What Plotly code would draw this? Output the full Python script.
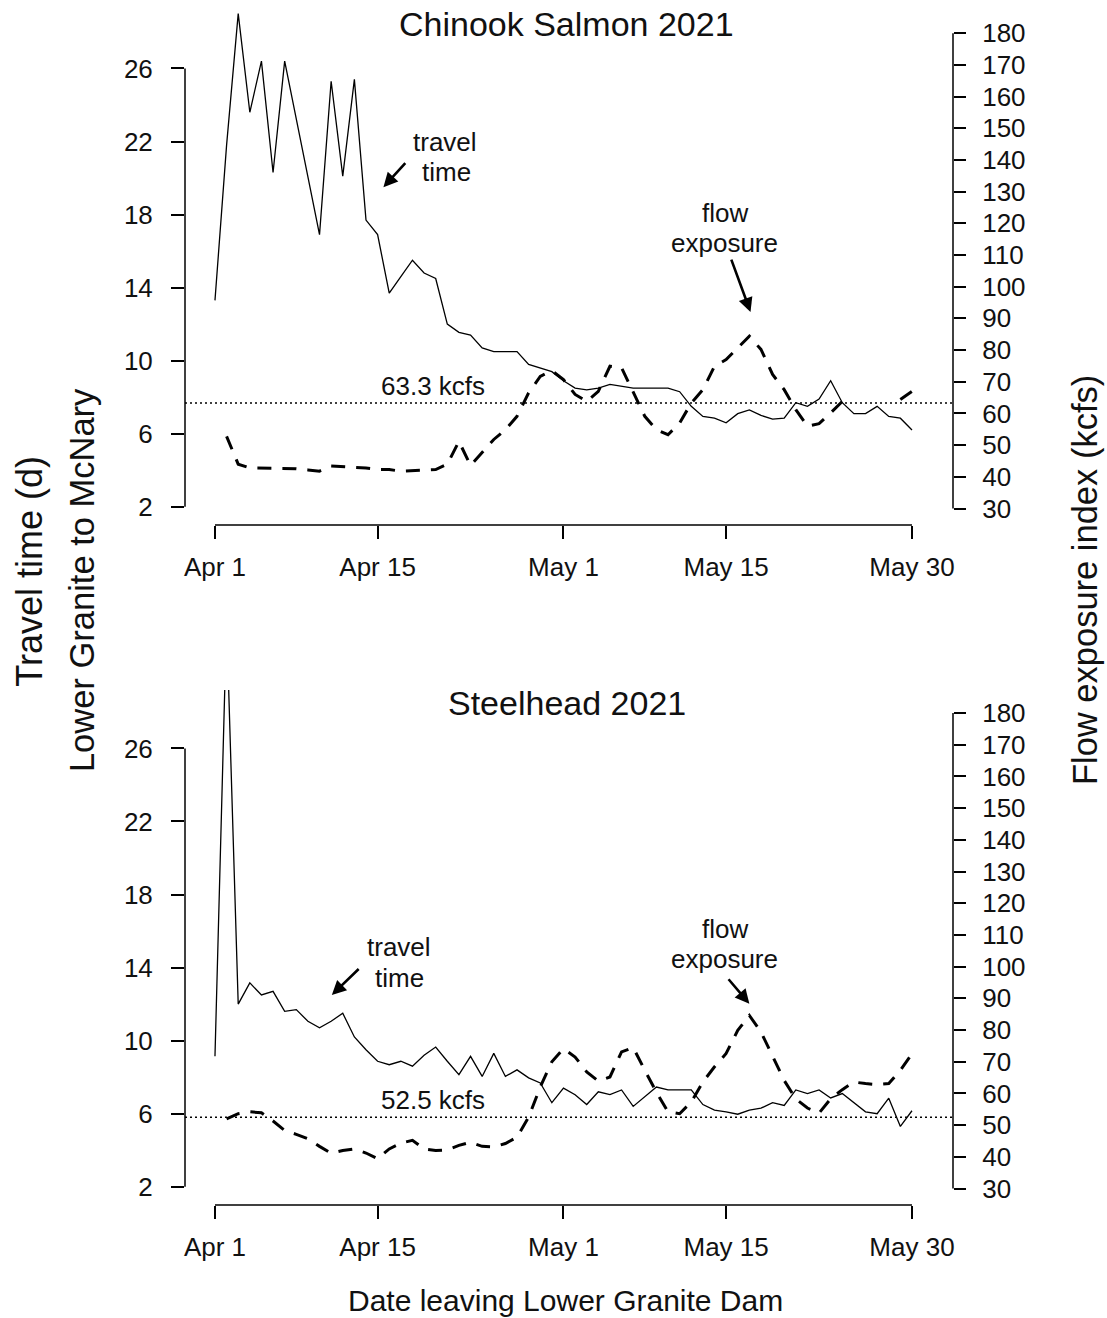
import plotly.graph_objects as go

# Days after Apr 1 (Apr 1 = 0)
days = list(range(61))
tick_days = [0, 14, 30, 44, 60]
tick_labels = ["Apr 1", "Apr 15", "May 1", "May 15", "May 30"]

# Chinook Salmon 2021
chinook_travel = [13.3, 21.8, 29.0, 23.6, 26.4, 20.3, 26.4, 23.3, 20.1, 16.9,
                  25.3, 20.1, 25.4, 17.7, 16.9, 13.7, 14.6, 15.5, 14.8, 14.5,
                  12.0, 11.55, 11.4, 10.7, 10.5, 10.5, 10.5, 9.8, 9.6, 9.4,
                  8.9, 8.5, 8.4, 8.5, 8.7, 8.6, 8.5, 8.5, 8.5, 8.5,
                  8.3, 7.5, 6.95, 6.85, 6.6, 7.1, 7.3, 7.0, 6.8, 6.85,
                  7.7, 7.5, 7.9, 8.9, 7.7, 7.1, 7.1, 7.5, 6.95, 6.85,
                  6.2]
chinook_flow = [None, 52.8, 44.0, 42.8, 42.8, 42.7, 42.8, 42.6, 42.2, 41.8,
                43.4, 43.2, 43.2, 42.8, 42.3, 42.3, 41.8, 42.0, 42.3, 42.3,
                44.0, 51.2, 43.6, 47.6, 51.8, 54.9, 59.1, 66.5, 71.7, 73.5,
                70.7, 66.0, 63.8, 67.0, 74.9, 74.4, 66.5, 59.1, 54.9, 53.3,
                57.0, 63.3, 67.5, 74.9, 77.0, 80.7, 84.4, 80.2, 72.3, 67.5,
                61.2, 56.0, 56.8, 60.2, 63.8, None, None, None, None, 64.4,
                67.0]

# Steelhead 2021
steelhead_travel = [9.14, 33.0, 12.0, 13.16, 12.5, 12.7, 11.6, 11.7, 11.06, 10.7,
                    11.06, 11.5, 10.2, 9.5, 8.87, 8.68, 8.87, 8.6, 9.2, 9.65,
                    8.87, 8.14, 9.14, 8.04, 9.3, 8.04, 8.4, 7.96, 7.68, 6.6,
                    7.4, 7.04, 6.5, 7.2, 7.04, 7.3, 6.4, 6.94, 7.46, 7.3,
                    7.3, 7.3, 6.5, 6.2, 6.1, 5.97, 6.2, 6.3, 6.6, 6.45,
                    7.3, 7.1, 7.3, 6.86, 7.1, 6.6, 6.1, 6.0, 6.85, 5.3,
                    6.16]
steelhead_flow = [None, 52.0, 53.6, 54.2, 53.9, 51.3, 48.3, 47.1, 45.7, 43.3,
                  41.1, 42.0, 42.5, 41.2, 39.4, 42.5, 44.3, 45.2, 42.5, 42.0,
                  42.2, 43.6, 44.6, 43.3, 43.1, 44.2, 46.2, 52.5, 62.0, 70.0,
                  74.1, 71.5, 66.8, 63.9, 65.2, 73.1, 74.5, 67.3, 60.4, 54.2,
                  53.6, 57.3, 63.6, 68.4, 72.6, 79.9, 84.6, 79.4, 71.7, 64.1,
                  58.3, 55.4, 53.8, 58.3, 61.2, 63.6, 63.1, 62.8, 63.1, 67.3,
                  72.5]

panel_titles = ["Chinook Salmon 2021", "Steelhead 2021"]
mean_flow = [63.3, 52.5]
travel_ticks = [2, 6, 10, 14, 18, 22, 26]
flow_ticks = list(range(30, 190, 10))

FONT = "Liberation Sans, Arial, sans-serif"
INK = "#111111"

X_RANGE = [-2.58, 63.53]
TT_RANGE = [1.0, 29.2]
FL_RANGE = [24.8, 187.3]

fig = go.Figure()

panels = [
    dict(travel=chinook_travel, flow=chinook_flow, x="x", yl="y", yr="y2"),
    dict(travel=steelhead_travel, flow=steelhead_flow, x="x2", yl="y3", yr="y4"),
]

for p in panels:
    fig.add_trace(go.Scatter(
        x=days, y=p["travel"], xaxis=p["x"], yaxis=p["yl"], mode="lines",
        line=dict(color="black", width=1.3), showlegend=False, hoverinfo="skip"))
    fig.add_trace(go.Scatter(
        x=days, y=p["flow"], xaxis=p["x"], yaxis=p["yr"], mode="lines",
        line=dict(color="black", width=3, dash="14px,11px"),
        showlegend=False, hoverinfo="skip", connectgaps=False))

common_x = dict(range=X_RANGE, tickvals=tick_days, ticktext=tick_labels,
                ticks="outside", ticklen=13, tickwidth=1.5, tickcolor="black",
                showline=False, showgrid=False, zeroline=False,
                tickfont=dict(family=FONT, size=26, color=INK),
                ticklabelstandoff=6, fixedrange=True)
common_yl = dict(range=TT_RANGE, tickvals=travel_ticks,
                 ticks="outside", ticklen=13, tickwidth=1.5, tickcolor="black",
                 showline=False, showgrid=False, zeroline=False,
                 tickfont=dict(family=FONT, size=26, color=INK),
                 ticklabelstandoff=13)
common_yr = dict(range=FL_RANGE, tickvals=flow_ticks, side="right",
                 ticks="outside", ticklen=12, tickwidth=1.5, tickcolor="black",
                 showline=False, showgrid=False, zeroline=False,
                 tickfont=dict(family=FONT, size=26, color=INK),
                 ticklabelstandoff=11)

TOP_DOMAIN = [0.569, 1.0]
BOT_DOMAIN = [0.0, 0.431]

fig.update_layout(
    width=1107, height=1318, autosize=False,
    margin=dict(l=185, r=154, t=10, b=113),
    paper_bgcolor="white", plot_bgcolor="white",
    font=dict(family=FONT, color=INK),
    xaxis=dict(common_x, domain=[0, 1], anchor="y"),
    yaxis=dict(common_yl, domain=TOP_DOMAIN, anchor="x"),
    yaxis2=dict(common_yr, overlaying="y", anchor="x"),
    xaxis2=dict(common_x, domain=[0, 1], anchor="y3"),
    yaxis3=dict(common_yl, domain=BOT_DOMAIN, anchor="x2"),
    yaxis4=dict(common_yr, overlaying="y3", anchor="x2"),
)

# Base-graphics style axis lines that run only between the end ticks
shapes = []
for xa, yl, yr, ref in [("x", "y", "y2", mean_flow[0]), ("x2", "y3", "y4", mean_flow[1])]:
    shapes.append(dict(type="line", xref=f"{xa} domain", x0=0, x1=0, yref=yl,
                       y0=travel_ticks[0], y1=travel_ticks[-1],
                       line=dict(color="black", width=1.5)))
    shapes.append(dict(type="line", xref=f"{xa} domain", x0=1, x1=1, yref=yr,
                       y0=flow_ticks[0], y1=flow_ticks[-1],
                       line=dict(color="black", width=1.5)))
    shapes.append(dict(type="line", xref=xa, x0=tick_days[0], x1=tick_days[-1],
                       yref=f"{yl} domain", y0=0, y1=0,
                       line=dict(color="black", width=1.5)))
    # mean flow reference
    shapes.append(dict(type="line", xref=f"{xa} domain", x0=0, x1=1, yref=yr,
                       y0=ref, y1=ref, line=dict(color="black", width=1.4, dash="2px,3px")))
fig.update_layout(shapes=shapes)

ann = []

def label(text, x, y, xref, yref, size=26, angle=0):
    ann.append(dict(text=text, x=x, y=y, xref=xref, yref=yref, showarrow=False,
                    font=dict(family=FONT, size=size, color=INK), textangle=angle,
                    xanchor="center", yanchor="middle"))

def arrow(x, y, ax, ay, xref, yref):
    ann.append(dict(text="", x=x, y=y, ax=ax, ay=ay, xref=xref, yref=yref,
                    axref=xref, ayref=yref, showarrow=True, arrowhead=2,
                    arrowsize=1.1, arrowwidth=2.6, arrowcolor="black"))

# panel titles
label(panel_titles[0], 0.497, 0.988, "paper", "paper", size=34)
label(panel_titles[1], 0.497, 0.420, "paper", "paper", size=34)

# top panel notes
label("travel", 19.8, 22.0, "x", "y")
label("time", 19.9, 20.35, "x", "y")
arrow(14.5, 19.5, 16.5, 20.9, "x", "y")
label("flow", 43.9, 123.3, "x", "y2")
label("exposure", 43.9, 113.8, "x", "y2")
arrow(46.1, 92.0, 44.4, 109.0, "x", "y2")
label(f"{mean_flow[0]} kcfs", 18.8, mean_flow[0] + 5.3, "x", "y2")

# bottom panel notes
label("travel", 15.8, 15.1, "x2", "y3")
label("time", 15.9, 13.45, "x2", "y3")
arrow(10.06, 12.5, 12.5, 14.0, "x2", "y3")
label("flow", 43.9, 112.0, "x2", "y4")
label("exposure", 43.9, 102.5, "x2", "y4")
arrow(46.0, 88.3, 44.1, 96.5, "x2", "y4")
label(f"{mean_flow[1]} kcfs", 18.8, mean_flow[1] + 5.5, "x2", "y4")

# axis titles
label("Travel time (d)", -0.2018, 0.530, "paper", "paper", size=36, angle=-90)
label("Lower Granite to McNary", -0.134, 0.523, "paper", "paper", size=34.5, angle=-90)
label("Flow exposure index (kcfs)", 1.172, 0.523, "paper", "paper", size=34.5, angle=-90)
label("Date leaving Lower Granite Dam", 0.496, -0.0795, "paper", "paper", size=30)

fig.update_layout(annotations=ann)

fig.write_html("out.html")
